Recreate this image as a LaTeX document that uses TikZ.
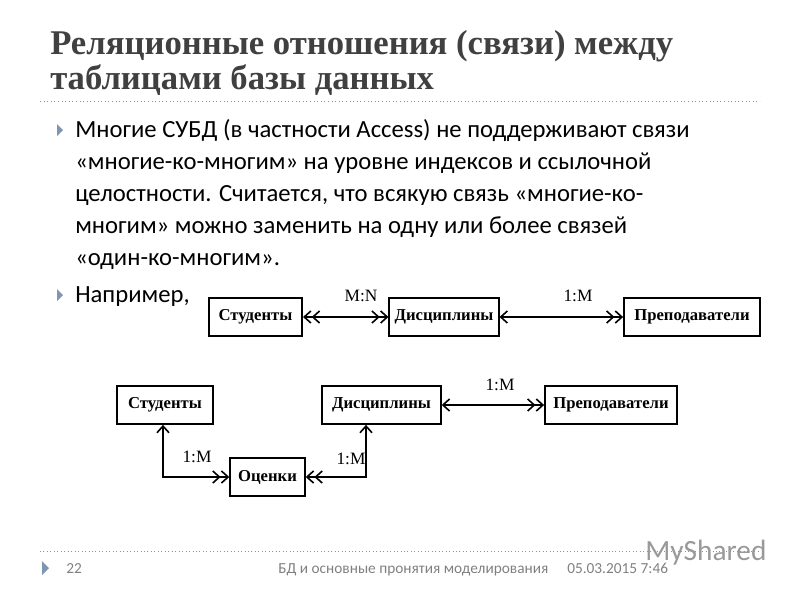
\documentclass[tikz,border=0pt]{standalone}
\usepackage{fontspec}
\setmainfont{Carlito}
\newfontfamily\ser{Liberation Serif}
\usetikzlibrary{arrows.meta}
\definecolor{ttl}{HTML}{404040}
\definecolor{bul}{HTML}{7F96B0}
\tikzset{
  one/.tip={Straight Barb[length=5pt,width=9pt,line width=1.2pt]},
  ent/.style={draw,line width=1.3pt,font=\ser\bfseries\fontsize{12.5}{14}\selectfont,inner sep=0pt,minimum height=28.5pt},
  lnk/.style={line width=1.1pt},
  lbl/.style={font=\ser\fontsize{13}{14}\selectfont},
  bt/.style={font=\fontsize{18.5}{22}\selectfont,anchor=base west,inner sep=0pt},
  ft/.style={anchor=base west,inner sep=0pt,text=gray,font=\fontsize{11.5}{13}\selectfont},
  tri/.style={fill=bul,draw=none}
}
\begin{document}
\begin{tikzpicture}[x=0.75pt,y=-0.75pt]
\useasboundingbox (0,0) rectangle (800,600);
\node[anchor=base west,inner sep=0pt,text=ttl,font=\ser\bfseries\fontsize{26}{28}\selectfont] (t1) at (50,54) {Реляционные отношения (связи) между};
\node[anchor=base west,inner sep=0pt,text=ttl,font=\ser\bfseries\fontsize{26}{28}\selectfont] (t2) at (50,89) {таблицами базы данных};
\draw[bul,dotted,line width=0.7pt] (40,101) -- (760,101);
\fill[tri] (57,124) -- (63,130) -- (57,136) -- cycle;
\fill[tri] (57,289) -- (63,295) -- (57,301) -- cycle;
\node[bt] (b1) at (75,137) {Многие СУБД (в частности Access) не поддерживают связи};
\node[bt] (b2) at (75,169) {«многие-ко-многим» на уровне индексов и ссылочной};
\node[bt] (b3) at (75,201) {целостности. Считается, что всякую связь «многие-ко-};
\node[bt] (b4) at (75,233) {многим» можно заменить на одну или более связей};
\node[bt] (b5) at (75,265) {«один-ко-многим».};
\node[bt] (b6) at (75,302) {Например,};
% top row
\node[ent,minimum width=70pt] (s1) at (255.5,317) {Студенты};
\node[ent,minimum width=82pt] (d1) at (444,317) {Дисциплины};
\node[ent,minimum width=102pt] (p1) at (692,317) {Преподаватели};
\draw[lnk,{one[]one[]}-{one[]one[]}] (s1) -- (d1);
\draw[lnk,{one[]}-{one[]one[]}] (d1) -- (p1);
\node[lbl] (l1) at (361,296) {M:N};
\node[lbl] (l2) at (578,296) {1:M};
% bottom
\node[ent,minimum width=72pt] (s2) at (165,405) {Студенты};
\node[ent,minimum width=89pt] (d2) at (381.5,405) {Дисциплины};
\node[ent,minimum width=99pt] (p2) at (611,405) {Преподаватели};
\node[ent,minimum width=56pt] (o2) at (267.5,477) {Оценки};
\coordinate (c1) at (163,477);
\coordinate (c2) at (366,477);
\draw[lnk,{one[]}-{one[]one[]}] (s2.south -| c1) -- (c1) -- (o2.west);
\draw[lnk,{one[]}-{one[]one[]}] (d2.south -| c2) -- (c2) -- (o2.east);
\draw[lnk,{one[]}-{one[]one[]}] (d2.east) -- (d2.east -| p2.west);
\node[lbl] (l3) at (197,457) {1:M};
\node[lbl] (l4) at (351,459) {1:M};
\node[lbl] (l5) at (500,385) {1:M};
% footer
\draw[bul,dotted,line width=0.6pt] (40,551) -- (760,551);
\fill[tri] (42,561) -- (49,568) -- (42,575) -- cycle;
\node[ft] (f1) at (66,573) {22};
\node[ft] (f2) at (278,573) {БД и основные пронятия моделирования};
\node[ft] (f3) at (567,573) {05.03.2015 7:46};
\node[anchor=base west,inner sep=0pt,text=gray!80,font=\fontsize{22}{24}\selectfont] (f4) at (645,560) {MyShared};
\end{tikzpicture}
\end{document}
